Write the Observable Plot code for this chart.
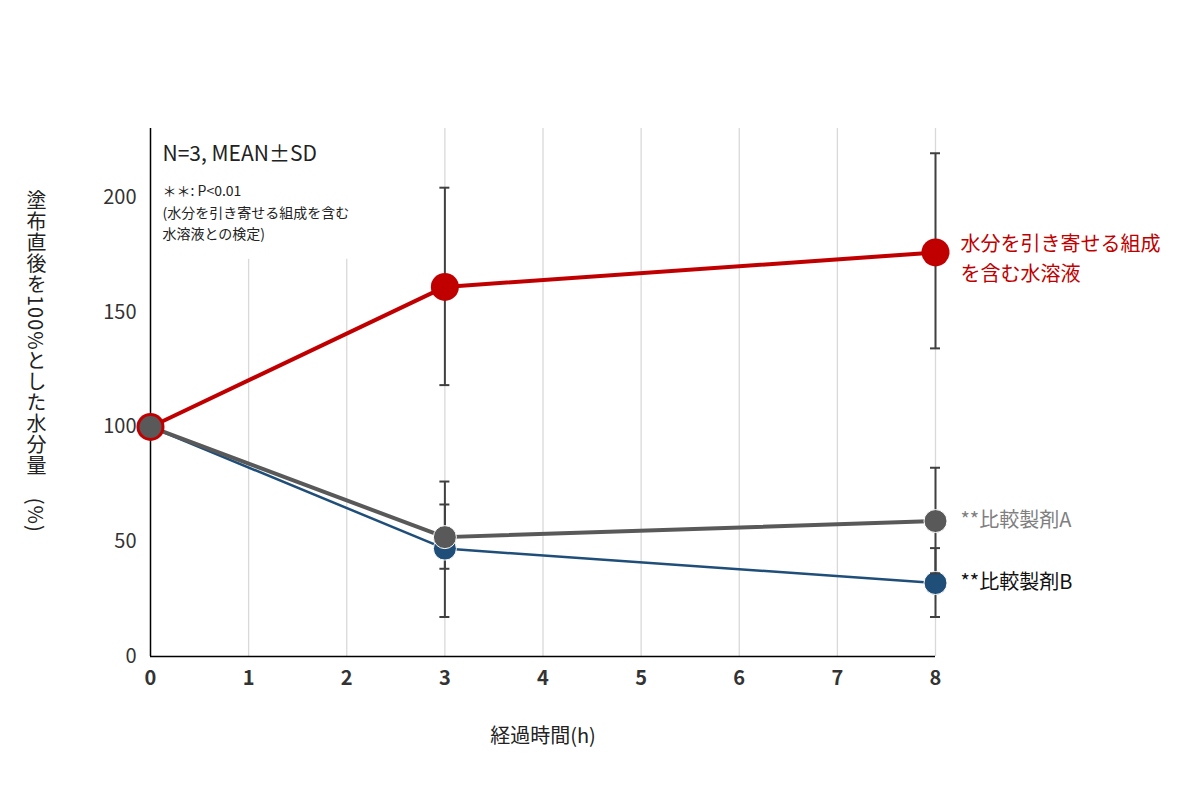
<!DOCTYPE html>
<html><head><meta charset="utf-8">
<script src="https://cdn.jsdelivr.net/npm/d3@7"></script>
<script src="https://cdn.jsdelivr.net/npm/@observablehq/plot@0.6"></script>
<style>
body{margin:0;background:#fff;font-family:"Noto Sans CJK JP",sans-serif;}
#wrap{position:relative;width:1200px;height:800px;}
#ylab{position:absolute;left:22px;top:190px;writing-mode:vertical-rl;font-size:20px;color:#222;letter-spacing:1px;z-index:2;}
</style></head><body>
<div id="wrap"><div id="ylab">塗布直後を100%とした水分量　(%)</div></div>
<script>
const hours = [0, 3, 8];
const xTicks = [0,1,2,3,4,5,6,7,8];
const yTicks = [0,50,100,150,200];
const seriesNames = ["水分を引き寄せる組成を含む水溶液","**比較製剤A","**比較製剤B"];
const redVals = [100, 161, 176];
const redLo = [null, 118, 134];
const redHi = [null, 204, 219];
const aVals = [100, 52, 59];
const aLo = [null, 38, 36];
const aHi = [null, 66, 82];
const bVals = [100, 47, 32];
const bLo = [null, 17, 17];
const bHi = [null, 76, 47];
const colors = ["#c00000","#595959","#1f4e79"];

const mk = (vals, lo, hi, s) => hours.map((h,i)=>({h, v:vals[i], lo:lo[i], hi:hi[i], s}));
const red = mk(redVals, redLo, redHi, 0), A = mk(aVals, aLo, aHi, 1), B = mk(bVals, bLo, bHi, 2);
const errs = [...red, ...A, ...B].filter(d=>d.lo!=null);
const capData = errs.flatMap(d=>[{h:d.h,y:d.lo},{h:d.h,y:d.hi}]);

const chart = Plot.plot({
  width:1200, height:800,
  marginLeft:150, marginRight:265, marginTop:128, marginBottom:144,
  x:{type:"linear", domain:[0,8], label:null},
  y:{type:"linear", domain:[0,230], label:null},
  style:{fontFamily:"Noto Sans CJK JP, sans-serif", background:"#fff"},
  marks:[
    Plot.ruleX([1,2], {y1:0, y2:173, stroke:"#d9d9d9", strokeWidth:1.3, strokeOpacity:1}),
    Plot.ruleX([3,4,5,6,7,8], {y1:0, y2:230, stroke:"#d9d9d9", strokeWidth:1.3, strokeOpacity:1}),
    Plot.ruleX([0], {y1:0, y2:230, stroke:"#000", strokeWidth:1.5}),
    Plot.ruleY([0], {stroke:"#000", strokeWidth:1.5}),
    Plot.axisY({ticks:yTicks, tickSize:0, tickPadding:14, fontSize:20, fill:"#333"}),
    Plot.axisX({ticks:xTicks, tickSize:0, tickPadding:14, fontSize:20, fontWeight:"bold", fill:"#333", tickFormat:d=>String(d)}),
    Plot.text(["経過時間(h)"], {frameAnchor:"bottom", dy:86, fontSize:20, fill:"#222"}),
    Plot.ruleX(errs, {x:"h", y1:"lo", y2:"hi", stroke:"#404040", strokeWidth:2}),
    Plot.line(B, {x:"h", y:"v", stroke:colors[2], strokeWidth:2.5}),
    Plot.line(A, {x:"h", y:"v", stroke:colors[1], strokeWidth:4}),
    Plot.line(red, {x:"h", y:"v", stroke:colors[0], strokeWidth:4}),
    Plot.dot(red, {x:"h", y:"v", r:14, fill:colors[0]}),
    Plot.dot(B, {x:"h", y:"v", r:11.5, fill:colors[2], stroke:"#fff", strokeWidth:1}),
    Plot.dot(A, {x:"h", y:"v", r:11.5, fill:colors[1], stroke:"#fff", strokeWidth:1}),
    Plot.dot([red[0]], {x:"h", y:"v", r:12, fill:colors[1], stroke:colors[0], strokeWidth:2}),
    Plot.text(["N=3, MEAN±SD"], {frameAnchor:"top-left", dx:12, dy:18, fontSize:21, fill:"#222"}),
    Plot.text(["＊＊: P<0.01\n(水分を引き寄せる組成を含む\n水溶液との検定)"], {frameAnchor:"top-left", dx:12, dy:52, fontSize:14, lineHeight:1.55, fill:"#222"}),
    Plot.text([red[2]], {x:"h", y:"v", text:()=> "水分を引き寄せる組成\nを含む水溶液", textAnchor:"start", dx:25, dy:4, fontSize:20, lineHeight:1.5, fill:colors[0]}),
    Plot.text([A[2]], {x:"h", y:"v", text:()=>seriesNames[1], textAnchor:"start", dx:25, fontSize:20, fill:"#7f7f7f"}),
    Plot.text([B[2]], {x:"h", y:"v", text:()=>seriesNames[2], textAnchor:"start", dx:25, fontSize:20, fill:"#111"})
  ]
});
document.getElementById("wrap").prepend(chart);
const sx = chart.scale("x"), sy = chart.scale("y");
d3.select(chart).append("g").selectAll("line").data(capData).join("line")
 .attr("x1",d=>sx.apply(d.h)-5).attr("x2",d=>sx.apply(d.h)+5)
 .attr("y1",d=>sy.apply(d.y)).attr("y2",d=>sy.apply(d.y))
 .attr("stroke","#404040").attr("stroke-width",2);
chart.style.position="absolute"; chart.style.left="0"; chart.style.top="0";
</script></body></html>
